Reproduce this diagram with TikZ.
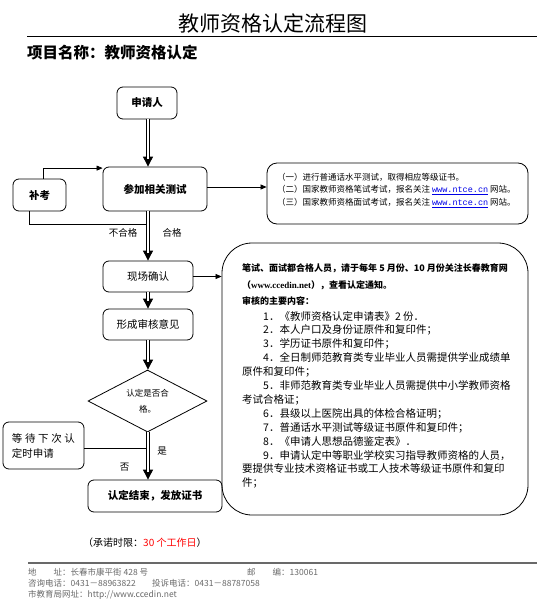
\documentclass[tikz,border=0pt]{standalone}
\usepackage{fontspec}
\setmainfont{Noto Sans CJK SC}
\newfontfamily\serif{Liberation Serif}
\newfontfamily\mono{Liberation Mono}
\usetikzlibrary{arrows.meta,shapes.geometric}
\definecolor{linkblue}{RGB}{0,0,230}
\definecolor{footgray}{RGB}{105,105,105}
\newcommand{\weblink}[1]{\textcolor{linkblue}{\underline{\mono #1}}}
\begin{document}
\begin{tikzpicture}
      [x=1pt,y=-1pt,
       box/.style={draw,rounded corners=6pt,line width=.8pt,inner sep=0pt,
         font=\fontsize{10.5}{15}\selectfont},
       dbl/.style={double,double distance=2.4pt,line width=.9pt,shorten >=8pt},
       tip/.style={line width=.9pt,-{Triangle[length=10pt,width=10pt]}},
       arr/.style={line width=.7pt,-{Triangle[length=6pt,width=5pt]}},
       lbl/.style={font=\fontsize{9.5}{11}\selectfont},
       foot/.style={anchor=west,inner sep=0pt,text=footgray,
         font=\fontsize{8.5}{10}\selectfont}]
      \useasboundingbox (0,0) rectangle (537,605);
      % heading
      \node[font=\fontsize{21}{21}\selectfont] (title) at (272.5,23) {教师资格认定流程图};
      \draw[line width=1pt] (27,36) -- (537,36);
      \node[anchor=west,inner sep=0pt,font=\bfseries\fontsize{15.5}{16}\selectfont]
        (project) at (27,53) {项目名称：教师资格认定};

      % flow
      \coordinate (spine) at (148,0);
      \node[box,minimum width=60pt,minimum height=32pt,font=\bfseries\fontsize{10.5}{12}\selectfont]
        (apply) at (147,103) {申请人};
      \node[box,minimum width=104pt,minimum height=44pt,font=\bfseries\fontsize{10.5}{12}\selectfont]
        (test) at (155,189) {参加相关测试};
      \node[box,minimum width=53pt,minimum height=32pt,font=\bfseries\fontsize{10.5}{12}\selectfont]
        (makeup) at (39.5,195) {补考};
      \node[box,minimum width=90pt,minimum height=31pt] (confirm) at (148,276.5) {现场确认};
      \node[box,minimum width=90pt,minimum height=31pt] (review) at (148,324.5) {形成审核意见};
      \node[draw,diamond,minimum width=119pt,minimum height=62pt,inner sep=0pt,line width=.8pt]
        (judge) at (147.5,401) {};
      \node[align=center,font=\fontsize{8.5}{16}\selectfont] (judgetext) at (judge) {认定是否合\\格。};
      \node[box,minimum width=134pt,minimum height=32pt,font=\bfseries\fontsize{10.5}{12}\selectfont]
        (finish) at (155,496) {认定结束，发放证书};
      \node[box,minimum width=81pt,minimum height=47pt,align=left] (wait) at (43.5,445.5)
        {\makebox[63pt][l]{等\hfill 待\hfill 下\hfill 次\hfill 认}\\定时申请};

      % side boxes
      \node[draw,rounded corners=10pt,line width=.8pt,minimum width=261pt,minimum height=61pt]
        (info) at (397.5,193.5) {};
      \node[anchor=north west,inner sep=0pt,align=left,font=\fontsize{8.5}{12.5}\selectfont]
        (infotext) at (277,173) {（一）进行普通话水平测试，取得相应等级证书。\\
        （二）国家教师资格笔试考试，报名关注 \weblink{www.ntce.cn} 网站。\\
        （三）国家教师资格面试考试，报名关注 \weblink{www.ntce.cn} 网站。};
      \node[draw,rounded corners=30pt,line width=.8pt,minimum width=306pt,minimum height=272pt]
        (notes) at (375,379) {};
      \node[anchor=north west,inner sep=0pt,align=left,font=\bfseries\fontsize{9}{16.5}\selectfont]
        (notehead) at (242,263.5) {笔试、面试都合格人员，请于每年 5 月份、10 月份关注长春教育网\\
        （{\serif\bfseries www.ccedin.net}），查看认定通知。\\
        审核的主要内容：};
      \node[anchor=north west,inner sep=0pt,align=left,font=\fontsize{10.5}{13.9}\selectfont]
        (noteitems) at (242,311) {\hspace*{21pt}1．《教师资格认定申请表》2 份．\\
        \hspace*{21pt}2．本人户口及身份证原件和复印件；\\
        \hspace*{21pt}3．学历证书原件和复印件；\\
        \hspace*{21pt}4．全日制师范教育类专业毕业人员需提供学业成绩单\\
        原件和复印件；\\
        \hspace*{21pt}5．非师范教育类专业毕业人员需提供中小学教师资格\\
        考试合格证；\\
        \hspace*{21pt}6．县级以上医院出具的体检合格证明；\\
        \hspace*{21pt}7．普通话水平测试等级证书原件和复印件；\\
        \hspace*{21pt}8．《申请人思想品德鉴定表》．\\
        \hspace*{21pt}9．申请认定中等职业学校实习指导教师资格的人员，\\
        要提供专业技术资格证书或工人技术等级证书原件和复印\\
        件；};

      % double arrows down the middle
      \foreach \a/\b in {apply/test,test/confirm,confirm/review,review/judge,judge/finish} {
        \draw[tip] (\a.south -| spine) -- (\b.north -| spine);
        \draw[dbl] (\a.south -| spine) -- (\b.north -| spine);
      }

      % side connectors
      \draw[arr] (test.east |- 0,187) -- (info.west |- 0,187);
      \draw[arr] (confirm.east) -- (confirm.east -| notes.west);
      \draw[arr] ([xshift=3.5pt]makeup.north) |- ([yshift=-1.5pt]test.north west);
      \coordinate (fail) at (147,224);
      \draw[line width=.7pt] ([xshift=-10.5pt]makeup.south) |- (fail);
      \draw[line width=.7pt] ([yshift=-2.5pt]wait.east) -- ([yshift=-2.5pt]wait.east -| fail);
      \node[lbl] (faillbl) at (123,233) {不合格};
      \node[lbl] (passlbl) at (172,233) {合格};
      \node[lbl] (yeslbl) at (162,451) {是};
      \node[lbl] (nolbl) at (124.5,467) {否};

      % footer
      \node[anchor=west,inner sep=0pt,font=\fontsize{10}{12}\selectfont] (promise) at (83,543)
        {（承诺时限：\textcolor{red}{30 个工作日}）};
      \draw[footgray,line width=1.2pt] (28,563) -- (537,563);
      \node[foot] (addr) at (28,572) {地\hspace{2em}址：长春市康平街 428 号};
      \node[foot] (zip) at (247,572) {邮\hspace{2em}编：130061};
      \node[foot] (tel) at (28,583) {咨询电话：0431－88963822};
      \node[foot] (tel2) at (152,583) {投诉电话：0431－88787058};
      \node[foot] (web) at (28,595) {市教育局网址：http://www.ccedin.net};
    \end{tikzpicture}
\end{document}
